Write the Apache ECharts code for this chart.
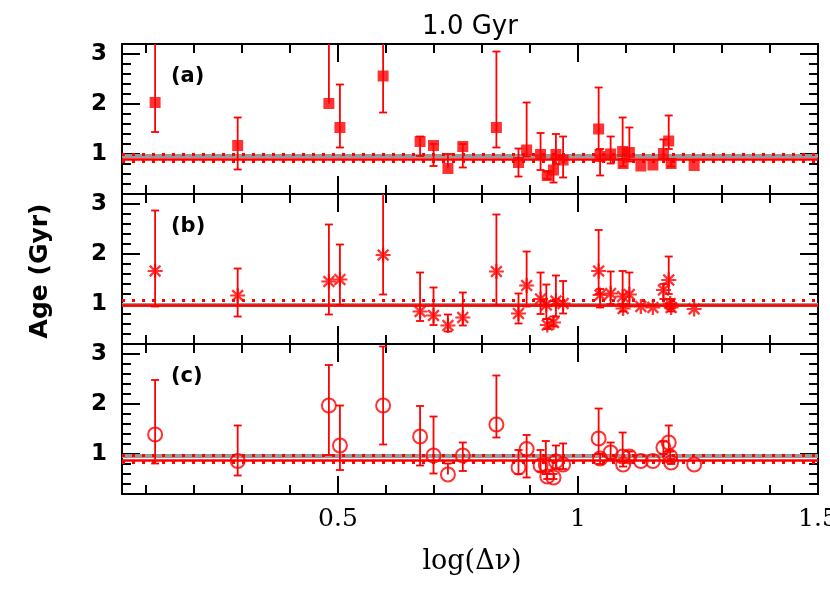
<!DOCTYPE html>
<html>
<head>
<meta charset="utf-8">
<script src="https://cdn.jsdelivr.net/npm/echarts@6/dist/echarts.min.js"></script>
<style>
  html, body { margin: 0; background: #fff; }
  #myChart { width: 830px; height: 592px; }
</style>
</head>
<body>
<div id="myChart"></div>
<script>
  // each point: [log(dnu), age, lower end of bar, upper end of bar]
  const panelA = [
    [0.119, 2.03, 1.44, 3.40], [0.291, 1.17, 0.69, 1.73], [0.481, 2.01, 2.01, 3.40],
    [0.504, 1.53, 1.13, 2.39], [0.594, 2.56, 1.83, 3.40], [0.671, 1.25, 0.96, 1.35],
    [0.699, 1.17, 0.76, 1.20], [0.729, 0.71, 0.71, 1.00], [0.760, 1.15, 0.73, 1.20],
    [0.830, 1.53, 1.13, 3.05], [0.876, 0.83, 0.55, 1.11], [0.893, 1.08, 0.95, 2.03],
    [0.922, 0.99, 0.68, 1.42], [0.936, 0.57, 0.50, 0.65], [0.949, 0.68, 0.43, 0.90],
    [0.954, 0.99, 0.80, 1.40], [0.969, 0.88, 0.53, 1.35], [1.043, 1.50, 1.08, 2.33],
    [1.046, 0.95, 0.57, 1.10], [1.068, 1.00, 0.81, 1.35], [1.093, 1.05, 0.90, 1.73],
    [1.094, 0.81, 0.75, 0.90], [1.107, 1.03, 0.85, 1.53], [1.131, 0.76, 0.76, 0.76],
    [1.156, 0.78, 0.78, 0.78], [1.178, 1.01, 0.90, 1.29], [1.189, 1.26, 1.10, 1.77],
    [1.194, 0.81, 0.75, 0.90], [1.242, 0.77, 0.77, 0.77]
  ]
  const panelB = [
    [0.119, 1.66, 0.95, 2.87], [0.291, 1.17, 0.75, 1.71], [0.481, 1.45, 0.79, 2.59],
    [0.504, 1.49, 0.98, 2.19], [0.594, 1.98, 1.19, 3.40], [0.671, 0.85, 0.66, 1.63],
    [0.699, 0.77, 0.58, 1.33], [0.729, 0.57, 0.45, 0.79], [0.760, 0.73, 0.57, 1.23],
    [0.830, 1.65, 0.98, 2.79], [0.876, 0.81, 0.61, 1.21], [0.893, 1.37, 0.95, 2.05],
    [0.922, 1.10, 0.80, 1.63], [0.934, 0.98, 0.70, 1.39], [0.936, 0.58, 0.50, 0.70],
    [0.949, 0.63, 0.55, 0.75], [0.954, 1.06, 0.75, 1.57], [0.969, 1.01, 0.81, 1.46],
    [1.043, 1.66, 1.20, 2.48], [1.046, 1.18, 0.93, 1.30], [1.068, 1.21, 1.00, 1.65],
    [1.093, 1.15, 0.95, 1.66], [1.094, 0.91, 0.85, 1.00], [1.107, 1.19, 0.95, 1.63],
    [1.131, 0.95, 0.95, 0.95], [1.156, 0.93, 0.93, 0.93], [1.178, 1.28, 1.10, 1.40],
    [1.189, 1.48, 1.20, 1.95], [1.192, 1.01, 0.90, 1.10], [1.194, 0.93, 0.85, 1.00],
    [1.242, 0.90, 0.90, 0.90]
  ]
  const panelC = [
    [0.119, 1.39, 0.81, 2.48], [0.291, 0.86, 0.57, 1.57], [0.481, 1.97, 0.98, 2.78],
    [0.504, 1.17, 0.68, 1.97], [0.594, 1.97, 1.19, 3.15], [0.671, 1.35, 0.77, 1.96],
    [0.699, 0.97, 0.61, 1.75], [0.729, 0.59, 0.59, 0.81], [0.760, 0.97, 0.66, 1.23],
    [0.830, 1.59, 1.33, 2.57], [0.876, 0.73, 0.60, 1.08], [0.893, 1.10, 0.53, 1.38],
    [0.922, 0.77, 0.65, 1.08], [0.933, 0.78, 0.60, 1.26], [0.936, 0.55, 0.50, 0.60],
    [0.949, 0.53, 0.50, 0.60], [0.954, 0.85, 0.70, 1.17], [0.969, 0.79, 0.70, 1.21],
    [1.043, 1.31, 1.00, 1.91], [1.046, 0.91, 0.80, 1.00], [1.068, 1.03, 0.90, 1.23],
    [1.093, 0.95, 0.85, 1.43], [1.094, 0.79, 0.75, 0.85], [1.107, 0.95, 0.85, 1.05],
    [1.131, 0.86, 0.86, 0.86], [1.156, 0.86, 0.86, 0.86], [1.178, 1.13, 1.00, 1.25],
    [1.189, 1.23, 1.05, 1.57], [1.192, 0.95, 0.85, 1.05], [1.194, 0.83, 0.80, 0.90],
    [1.242, 0.79, 0.79, 0.79]
  ]
  const panelNames = ['(a)', '(b)', '(c)']

  // horizontal reference lines (Gyr)
  const grayLines = [0.975, 0.985, 0.975]
  const solidLines = [0.90, 0.985, 0.88]
  const dottedLines = [[1.0, 0.85], [1.08], [0.97, 0.83]]

  // ticks and labels
  const xMinorTicks = [0.1, 0.2, 0.3, 0.4, 0.5, 0.6, 0.7, 0.8, 0.9, 1.0, 1.1, 1.2, 1.3, 1.4]
  const xMajorTicks = [0.5, 1.0]
  const xTickLabels = [0.5, 1, 1.5]
  const yMinorTicks = [0.4, 0.6, 0.8, 1.0, 1.2, 1.4, 1.6, 1.8, 2.0, 2.2, 2.4, 2.6, 2.8, 3.0]
  const yMajorTicks = [1, 2, 3]
  const yTickLabels = [1, 2, 3]

  const X_MIN = 0.05, X_MAX = 1.5, Y_MIN = 0.2, Y_MAX = 3.2
  const RED = '#ff0000'
  const panelTops = [44, 194, 344]
  const panelData = [panelA, panelB, panelC]

  const markers = [
    {symbol: 'rect', symbolSize: 11, itemStyle: {color: RED}},
    {symbol: 'path://M0,-1L0,1M-1,0L1,0M-0.72,-0.72L0.72,0.72M-0.72,0.72L0.72,-0.72', symbolSize: 15,
      itemStyle: {color: 'rgba(0,0,0,0)', borderColor: RED, borderWidth: 2.2}},
    {symbol: 'circle', symbolSize: 14, itemStyle: {color: 'rgba(0,0,0,0)', borderColor: RED, borderWidth: 2}}
  ]

  function tickStyle(len, ticks) {
    return {show: true, inside: true, length: len, customValues: ticks, lineStyle: {color: '#000', width: 2}}
  }

  function xAx(g, pos, ticks, len, labels) {
    return {
      type: 'value', gridIndex: g, position: pos, min: X_MIN, max: X_MAX,
      axisLine: {show: false}, splitLine: {show: false},
      axisTick: tickStyle(len, ticks),
      axisLabel: labels ? {show: true, customValues: labels, margin: 13, color: '#000', fontSize: 25,
        fontFamily: 'DejaVu Serif', formatter: v => String(v)} : {show: false}
    }
  }

  function yAx(g, pos, ticks, len, labels) {
    return {
      type: 'value', gridIndex: g, position: pos, min: Y_MIN, max: Y_MAX,
      axisLine: {show: false}, splitLine: {show: false},
      axisTick: tickStyle(len, ticks),
      axisLabel: labels ? {show: true, customValues: labels, margin: 15, color: '#000', fontSize: 23,
        fontWeight: 'bold', fontFamily: 'DejaVu Sans', formatter: v => String(v)} : {show: false}
    }
  }

  function renderBar(params, api) {
    const x = api.value(0), y = api.value(1), lo = api.value(2), hi = api.value(3)
    const p0 = api.coord([x, lo])
    const p1 = api.coord([x, Math.min(hi, Y_MAX)])
    const st = {stroke: RED, lineWidth: 1.8}
    const kids = [{type: 'line', shape: {x1: p0[0], y1: p0[1], x2: p1[0], y2: p1[1]}, style: st}]
    if (lo < y) kids.push({type: 'line', shape: {x1: p0[0] - 4, y1: p0[1], x2: p0[0] + 4, y2: p0[1]}, style: st})
    if (hi > y && hi <= Y_MAX) kids.push({type: 'line', shape: {x1: p1[0] - 4, y1: p1[1], x2: p1[0] + 4, y2: p1[1]}, style: st})
    return {type: 'group', children: kids}
  }

  const grids = [], xAxes = [], yAxes = [], series = [], graphics = []
  panelTops.forEach((top, g) => {
    grids.push({left: 122, top: top, width: 696, height: 150, show: true, outerBoundsMode: 'none',
      containLabel: false, borderColor: '#000', borderWidth: 2, backgroundColor: 'transparent'})
    xAxes.push(xAx(g, 'bottom', xMinorTicks, 9, g === 2 ? xTickLabels : null))
    xAxes.push(xAx(g, 'bottom', xMajorTicks, 18, null))
    xAxes.push(xAx(g, 'top', xMinorTicks, 9, null))
    xAxes.push(xAx(g, 'top', xMajorTicks, 18, null))
    yAxes.push(yAx(g, 'left', yMinorTicks, 9, null))
    yAxes.push(yAx(g, 'left', yMajorTicks, 18, yTickLabels))
    yAxes.push(yAx(g, 'right', yMinorTicks, 9, null))
    yAxes.push(yAx(g, 'right', yMajorTicks, 18, null))

    const lines = [{yAxis: grayLines[g], lineStyle: {color: '#999', width: 4, type: 'solid'}},
      {yAxis: solidLines[g], lineStyle: {color: RED, width: 2.5, type: 'solid'}}]
    dottedLines[g].forEach(v => lines.push({yAxis: v, lineStyle: {color: RED, width: 3, type: [3, 7]}}))

    series.push({
      type: 'custom', xAxisIndex: 4 * g, yAxisIndex: 4 * g, clip: true, z: 2,
      renderItem: renderBar, encode: {x: 0, y: 1}, data: panelData[g],
      markLine: {silent: true, symbol: 'none', z: 1, label: {show: false}, animation: false, data: lines}
    })
    series.push(Object.assign({
      type: 'scatter', xAxisIndex: 4 * g, yAxisIndex: 4 * g, z: 3,
      data: panelData[g].map(d => [d[0], d[1]])
    }, markers[g]))

    graphics.push({type: 'text', left: 171, top: top + 22,
      style: {text: panelNames[g], font: 'bold 21px "DejaVu Sans"', fill: '#000'}})
  })

  graphics.push({type: 'text', x: 470, y: 27,
    style: {text: '1.0 Gyr', font: '26px "DejaVu Sans"', fill: '#000', textAlign: 'center', textVerticalAlign: 'middle'}})
  graphics.push({type: 'text', x: 472, y: 562,
    style: {text: 'log(Δν)', font: '27px "DejaVu Serif"', fill: '#000', textAlign: 'center', textVerticalAlign: 'middle'}})
  graphics.push({type: 'text', x: 40, y: 271, rotation: Math.PI / 2,
    style: {text: 'Age (Gyr)', font: 'bold 25px "DejaVu Sans"', fill: '#000', textAlign: 'center', textVerticalAlign: 'middle'}})

  const chart = echarts.init(document.getElementById('myChart'))
  chart.setOption({
    animation: false,
    backgroundColor: '#fff',
    grid: grids,
    xAxis: xAxes,
    yAxis: yAxes,
    series: series,
    graphic: graphics
  })
</script>
</body>
</html>
